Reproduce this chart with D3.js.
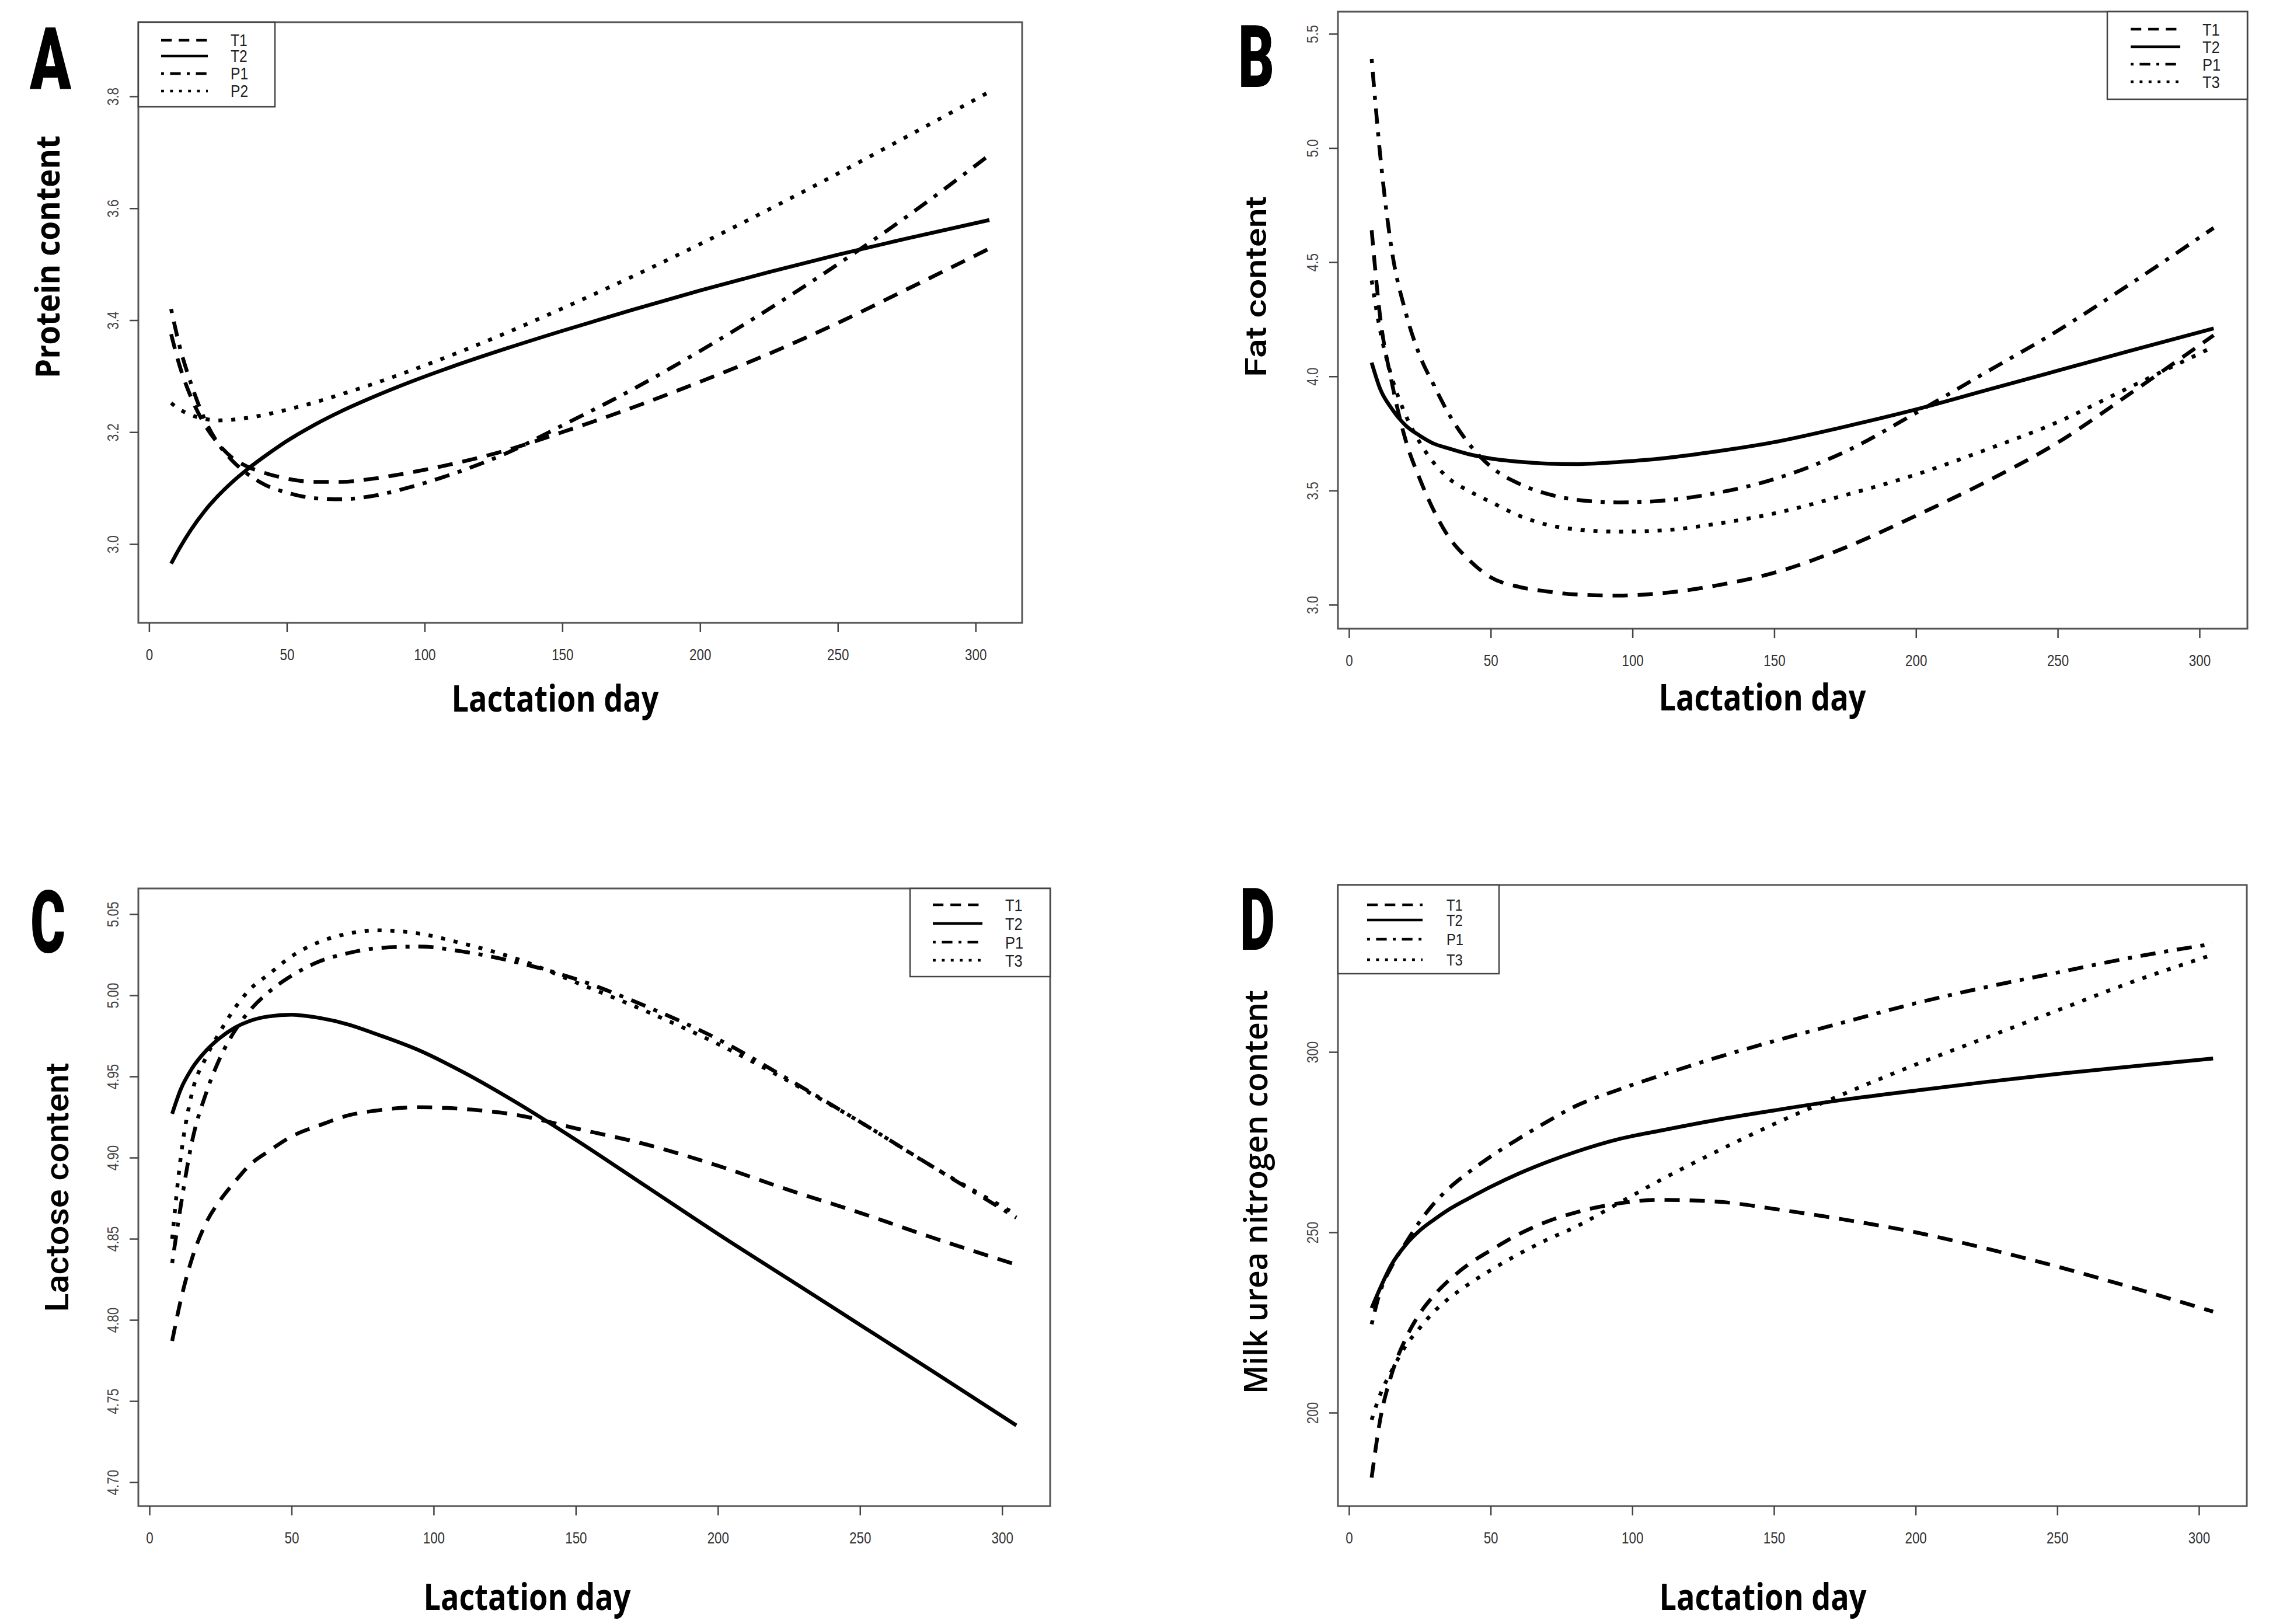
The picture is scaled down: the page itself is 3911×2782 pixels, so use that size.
<!DOCTYPE html>
<html>
<head>
<meta charset="utf-8">
<script src="https://cdn.jsdelivr.net/npm/d3@7"></script>
<style>
  html, body { margin: 0; padding: 0; background: #fff; }
  svg { display: block; }
</style>
</head>
<body>
<svg id="chart"></svg>
<script>
// lactation days where curves were read
var days = [8, 11, 15, 20, 25, 30, 35, 42, 50, 60, 70, 80, 95, 110, 130, 150, 175, 200, 225, 250, 275, 305];

// A - protein
var proteinT1 = [3.375, 3.32, 3.265, 3.215, 3.18, 3.155, 3.14, 3.127, 3.117, 3.111, 3.111, 3.116, 3.128, 3.143, 3.168, 3.2, 3.243, 3.29, 3.34, 3.395, 3.455, 3.528];
var proteinT2 = [2.965, 2.992, 3.024, 3.058, 3.086, 3.11, 3.131, 3.157, 3.184, 3.213, 3.238, 3.26, 3.29, 3.317, 3.35, 3.381, 3.418, 3.453, 3.486, 3.517, 3.546, 3.579];
var proteinP1 = [3.42, 3.355, 3.29, 3.225, 3.18, 3.15, 3.128, 3.106, 3.092, 3.082, 3.08, 3.085, 3.102, 3.125, 3.163, 3.212, 3.275, 3.345, 3.42, 3.5, 3.585, 3.695];
var proteinP2 = [3.252, 3.241, 3.231, 3.224, 3.221, 3.222, 3.225, 3.231, 3.24, 3.253, 3.268, 3.284, 3.31, 3.338, 3.378, 3.421, 3.477, 3.536, 3.598, 3.662, 3.728, 3.808];

// B - fat
var fatT1 = [4.64, 4.26, 3.98, 3.72, 3.55, 3.41, 3.30, 3.2, 3.12, 3.078, 3.058, 3.045, 3.04, 3.05, 3.085, 3.14, 3.25, 3.39, 3.54, 3.71, 3.92, 4.18];
var fatT2 = [4.06, 3.945, 3.86, 3.785, 3.74, 3.705, 3.685, 3.66, 3.64, 3.626, 3.618, 3.616, 3.625, 3.64, 3.672, 3.712, 3.78, 3.855, 3.94, 4.025, 4.11, 4.21];
var fatP1 = [5.39, 4.97, 4.56, 4.28, 4.09, 3.96, 3.84, 3.71, 3.605, 3.53, 3.485, 3.46, 3.448, 3.455, 3.49, 3.55, 3.67, 3.84, 4.02, 4.2, 4.4, 4.65];
var fatT3 = [4.42, 4.2, 4.0, 3.83, 3.71, 3.62, 3.555, 3.5, 3.45, 3.39, 3.35, 3.33, 3.32, 3.325, 3.355, 3.4, 3.48, 3.57, 3.68, 3.8, 3.95, 4.13];

// C - lactose
var lactoseT1 = [4.787, 4.812, 4.838, 4.86, 4.874, 4.885, 4.895, 4.904, 4.913, 4.92, 4.926, 4.929, 4.931, 4.93, 4.926, 4.918, 4.908, 4.895, 4.88, 4.866, 4.851, 4.834];
var lactoseT2 = [4.927, 4.942, 4.955, 4.966, 4.974, 4.98, 4.984, 4.987, 4.988, 4.986, 4.982, 4.976, 4.966, 4.953, 4.933, 4.911, 4.882, 4.853, 4.825, 4.797, 4.769, 4.735];
var lactoseP1 = [4.835, 4.87, 4.91, 4.94, 4.962, 4.978, 4.99, 5.002, 5.012, 5.021, 5.026, 5.029, 5.03, 5.027, 5.02, 5.01, 4.993, 4.973, 4.948, 4.922, 4.895, 4.863];
var lactoseT3 = [4.85, 4.9, 4.94, 4.962, 4.978, 4.992, 5.003, 5.013, 5.024, 5.033, 5.038, 5.04, 5.038, 5.032, 5.022, 5.008, 4.99, 4.97, 4.947, 4.922, 4.895, 4.865];

// D - milk urea nitrogen
var munT1 = [182, 198, 210.5, 220.5, 227.5, 232.5, 236.5, 241, 245, 249.5, 253, 255.5, 258, 259, 258.5, 256.5, 253.5, 250, 245.5, 240.5, 235, 228];
var munT2 = [229, 234.5, 241, 246.5, 250.5, 253.5, 256.2, 259.3, 262.6, 266.3, 269.5, 272.3, 275.8, 278.2, 281.2, 283.8, 286.8, 289.3, 291.7, 293.9, 295.9, 298.2];
var munP1 = [224.5, 233.5, 240.5, 247, 253, 258, 262, 266.5, 271, 276, 280.7, 285, 289.5, 293.5, 298.5, 303, 308.3, 313.5, 318, 322, 326, 330];
var munT3 = [198, 205, 211.5, 218.5, 223.5, 228, 231.5, 235.5, 239.5, 244, 248, 251.5, 258, 264.5, 272.5, 280, 288.5, 296.5, 304, 311.5, 319, 327];

// ticks and legend labels
var dayTicks = [0, 50, 100, 150, 200, 250, 300];
var proteinTicks = [3.0, 3.2, 3.4, 3.6, 3.8];
var fatTicks = [3.0, 3.5, 4.0, 4.5, 5.0, 5.5];
var lactoseTicks = [4.70, 4.75, 4.80, 4.85, 4.90, 4.95, 5.00, 5.05];
var munTicks = [200, 250, 300];
var namesA = ["T1", "T2", "P1", "P2"];
var namesOther = ["T1", "T2", "P1", "T3"];

var W = 3911, H = 2782;
var svg = d3.select("#chart").attr("width", W).attr("height", H);
svg.append("rect").attr("width", W).attr("height", H).attr("fill", "#fff");

// line type by legend position: dashed, solid, dot-dash, dotted
var dashes = ["26,17", null, "7,15,26,15", "7,15"];

var panels = [
  { letter: "A", lx: 51, ly: 153, lw: 71,
    title: "Protein content", tx: 102, ty: 440, tlen: 416, tsize: 57, tfont: "Open Sans", tweight: 700,
    series: [proteinT1, proteinT2, proteinP1, proteinP2], names: namesA,
    yTicks: proteinTicks, fmt: d3.format(".1f"),
    box: [237, 1751, 38, 1067], ydom: [2.8592, 3.9325],
    xt: 951, xb: 1219,
    leg: { x0: 237, x1: 471, y0: 38, y1: 183, rows: [69, 96, 126, 156], l0: 276, l1: 356, tx: 395, size: 29 } },
  { letter: "B", lx: 2121, ly: 149, lw: 62,
    title: "Fat  content", tx: 2169, ty: 491, tlen: 310, tsize: 50, tfont: "Roboto", tweight: 500,
    series: [fatT1, fatT2, fatP1, fatT3], names: namesOther,
    yTicks: fatTicks, fmt: d3.format(".1f"),
    box: [2292, 3850, 20, 1077], ydom: [2.895, 5.597],
    xt: 3019, xb: 1217,
    leg: { x0: 3610, x1: 3850, y0: 20, y1: 170, rows: [50, 80, 110, 140], l0: 3650, l1: 3735, tx: 3773, size: 30 } },
  { letter: "C", lx: 52, ly: 1632, lw: 60,
    title: "Lactose  content", tx: 117, ty: 2034, tlen: 427, tsize: 56, tfont: "Roboto", tweight: 500,
    series: [lactoseT1, lactoseT2, lactoseP1, lactoseT3], names: namesOther,
    yTicks: lactoseTicks, fmt: d3.format(".2f"),
    box: [237, 1799, 1522, 2580], ydom: [4.6853, 5.0658],
    xt: 903, xb: 2758,
    leg: { x0: 1559, x1: 1799, y0: 1522, y1: 1673, rows: [1550, 1582, 1614, 1645], l0: 1598, l1: 1683, tx: 1722, size: 30 } },
  { letter: "D", lx: 2124, ly: 1627, lw: 60,
    title: "Milk urea nitrogen content", tx: 2171, ty: 2042, tlen: 692, tsize: 56, tfont: "Open Sans", tweight: 600,
    series: [munT1, munT2, munP1, munT3], names: namesOther,
    yTicks: munTicks, fmt: d3.format("d"),
    box: [2292, 3849, 1516, 2580], ydom: [174.1, 346.3],
    xt: 3020, xb: 2758,
    leg: { x0: 2292, x1: 2568, y0: 1516, y1: 1668, rows: [1550, 1576, 1609, 1644], l0: 2342, l1: 2437, tx: 2478, size: 28 } }
];

panels.forEach(function(p) {
  var x = d3.scaleLinear().domain([-3.9, 316.9]).range([p.box[0], p.box[1]]);
  var y = d3.scaleLinear().domain(p.ydom).range([p.box[3], p.box[2]]);
  var g = svg.append("g");

  var line = d3.line()
    .x(function(d, i) { return x(days[i]); })
    .y(function(d) { return y(d); })
    .curve(d3.curveMonotoneX);

  // curves
  p.series.forEach(function(s, k) {
    g.append("path")
      .attr("d", line(s))
      .attr("fill", "none")
      .attr("stroke", "#000")
      .attr("stroke-width", 6.5)
      .attr("stroke-dasharray", dashes[k]);
  });

  // frame
  g.append("rect")
    .attr("x", p.box[0]).attr("y", p.box[2])
    .attr("width", p.box[1] - p.box[0]).attr("height", p.box[3] - p.box[2])
    .attr("fill", "none").attr("stroke", "#555").attr("stroke-width", 3);

  // x axis
  var xa = g.append("g")
    .attr("transform", "translate(0," + p.box[3] + ")")
    .call(d3.axisBottom(x).tickValues(dayTicks).tickSize(16).tickPadding(28).tickFormat(d3.format("d")));
  xa.select(".domain").remove();
  xa.selectAll("line").attr("stroke", "#444").attr("stroke-width", 2.5);
  xa.selectAll("text")
    .attr("font-family", "Liberation Sans, Arial, sans-serif")
    .attr("font-size", 28).attr("fill", "#333")
    .attr("transform", "scale(0.8,1)");

  // y axis, labels parallel to axis as in R
  var ya = g.append("g")
    .attr("transform", "translate(" + p.box[0] + ",0)")
    .call(d3.axisLeft(y).tickValues(p.yTicks).tickSize(15).tickFormat(p.fmt));
  ya.select(".domain").remove();
  ya.selectAll("line").attr("stroke", "#444").attr("stroke-width", 2.5);
  ya.selectAll("text")
    .attr("font-family", "Liberation Sans, Arial, sans-serif")
    .attr("font-size", 28).attr("fill", "#444")
    .attr("x", 0).attr("y", -34).attr("dy", 0)
    .attr("text-anchor", "middle")
    .attr("transform", "rotate(-90) scale(0.8,1)");

  // axis titles
  g.append("text")
    .attr("x", p.xt).attr("y", p.xb)
    .attr("text-anchor", "middle")
    .attr("font-family", "Open Sans, sans-serif").attr("font-weight", 700)
    .attr("font-size", 62)
    .attr("textLength", 355).attr("lengthAdjust", "spacingAndGlyphs")
    .text("Lactation day");

  g.append("text")
    .attr("transform", "translate(" + p.tx + "," + p.ty + ") rotate(-90)")
    .attr("text-anchor", "middle")
    .attr("font-family", p.tfont + ", sans-serif").attr("font-weight", p.tweight)
    .attr("font-size", p.tsize)
    .attr("textLength", p.tlen).attr("lengthAdjust", "spacingAndGlyphs")
    .text(p.title);

  // panel letter
  g.append("text")
    .attr("x", p.lx).attr("y", p.ly)
    .attr("font-family", "Roboto, sans-serif").attr("font-weight", 900)
    .attr("font-size", 148)
    .attr("textLength", p.lw).attr("lengthAdjust", "spacingAndGlyphs")
    .text(p.letter);

  // legend
  var L = p.leg;
  var lg = g.append("g");
  lg.append("rect")
    .attr("x", L.x0).attr("y", L.y0)
    .attr("width", L.x1 - L.x0).attr("height", L.y1 - L.y0)
    .attr("fill", "#fff").attr("stroke", "#444").attr("stroke-width", 2.5);
  p.names.forEach(function(n, k) {
    lg.append("line")
      .attr("x1", L.l0).attr("x2", L.l1)
      .attr("y1", L.rows[k]).attr("y2", L.rows[k])
      .attr("stroke", "#000").attr("stroke-width", 4.5)
      .attr("stroke-dasharray", dashes[k] ? dashes[k].split(",").map(function(v) { return v * 0.7; }).join(",") : null);
    lg.append("text")
      .attr("transform", "translate(" + L.tx + "," + L.rows[k] + ") scale(0.85,1)")
      .attr("dy", "0.36em")
      .attr("font-family", "Liberation Sans, Arial, sans-serif")
      .attr("font-size", L.size).attr("fill", "#222")
      .text(n);
  });
});
</script>
</body>
</html>
